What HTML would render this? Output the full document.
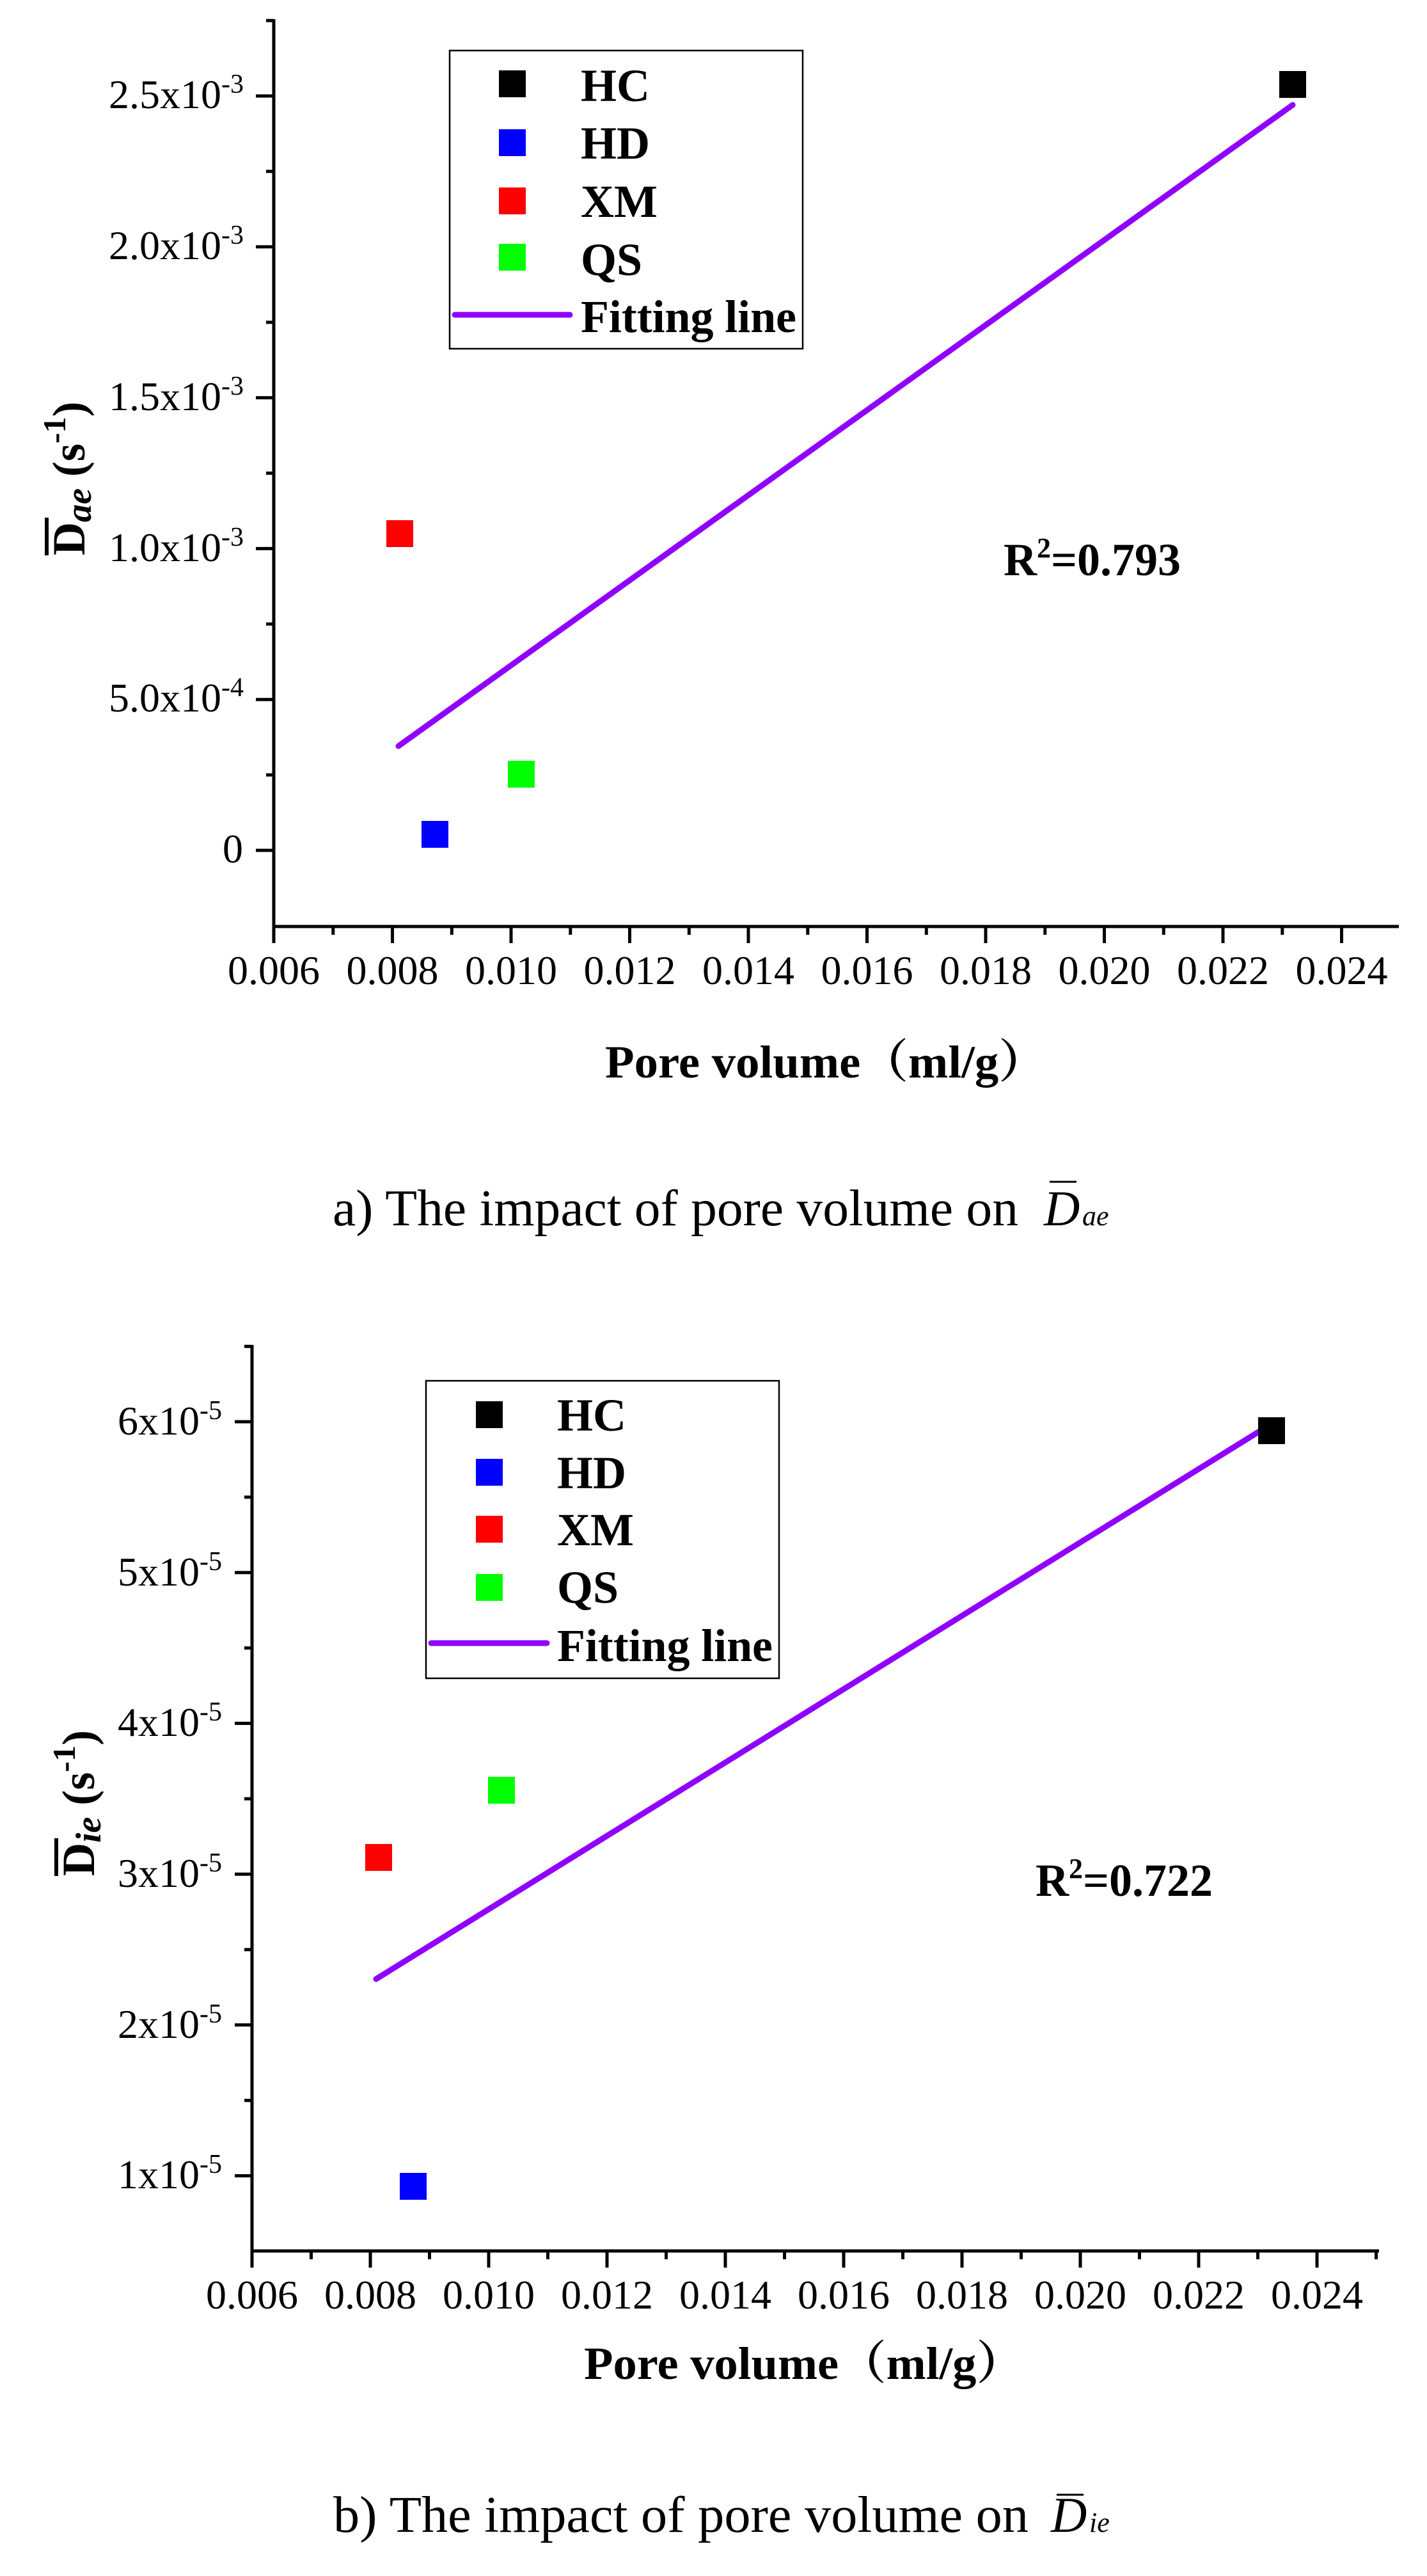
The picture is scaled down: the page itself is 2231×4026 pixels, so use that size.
<!DOCTYPE html>
<html><head><meta charset="utf-8"><style>
html,body{margin:0;padding:0;background:#fff;}
svg{display:block;}
text{font-family:"Liberation Serif","Noto Serif CJK SC",serif;fill:#000;}
.t{font-size:64px;}
.b{font-weight:bold;font-size:72px;}
</style></head><body>
<svg width="2231" height="4026" viewBox="0 0 2231 4026" xmlns="http://www.w3.org/2000/svg">
<rect width="2231" height="4026" fill="#fff"/>
<!-- ===== TOP CHART ===== -->
<g stroke="#000" stroke-width="5" fill="none">
<path d="M428 30V1450M426 1448H2187"/>
<path d="M400 1329H428M400 1093.2H428M400 857.4H428M400 621.6H428M400 385.8H428M400 150H428"/>
<path d="M416 1211.1H428M416 975.3H428M416 739.5H428M416 503.7H428M416 267.9H428M416 32.1H428"/>
<path d="M428 1448V1474M613.5 1448V1474M799 1448V1474M984.5 1448V1474M1170 1448V1474M1355.5 1448V1474M1541 1448V1474M1726.5 1448V1474M1912 1448V1474M2097.5 1448V1474"/>
<path d="M520.8 1448V1461M706.3 1448V1461M891.8 1448V1461M1077.3 1448V1461M1262.8 1448V1461M1448.3 1448V1461M1633.8 1448V1461M1819.3 1448V1461M2004.8 1448V1461"/>
</g>
<g class="t" text-anchor="end">
<text x="380" y="1348">0</text>
<text x="381" y="1112">5.0x10<tspan dy="-24" font-size="42">-4</tspan></text>
<text x="381" y="877">1.0x10<tspan dy="-24" font-size="42">-3</tspan></text>
<text x="381" y="641">1.5x10<tspan dy="-24" font-size="42">-3</tspan></text>
<text x="381" y="405">2.0x10<tspan dy="-24" font-size="42">-3</tspan></text>
<text x="381" y="169">2.5x10<tspan dy="-24" font-size="42">-3</tspan></text>
</g>
<g class="t" text-anchor="middle">
<text x="428" y="1538">0.006</text><text x="613.5" y="1538">0.008</text><text x="799" y="1538">0.010</text>
<text x="984.5" y="1538">0.012</text><text x="1170" y="1538">0.014</text><text x="1355.5" y="1538">0.016</text>
<text x="1541" y="1538">0.018</text><text x="1726.5" y="1538">0.020</text><text x="1912" y="1538">0.022</text>
<text x="2097.5" y="1538">0.024</text>
</g>
<line x1="623" y1="1166" x2="2021" y2="164" stroke="#8f00ff" stroke-width="9" stroke-linecap="round"/>
<rect x="2000" y="111" width="42" height="42" fill="#000"/>
<rect x="659" y="1283" width="42" height="42" fill="#0000ff"/>
<rect x="604" y="813" width="42" height="42" fill="#ff0000"/>
<rect x="794" y="1189" width="42" height="42" fill="#00ff00"/>
<!-- legend -->
<rect x="703" y="79" width="552" height="466" fill="none" stroke="#000" stroke-width="2.5"/>
<rect x="780" y="110" width="42" height="42" fill="#000"/>
<rect x="780" y="202" width="42" height="42" fill="#0000ff"/>
<rect x="780" y="293" width="42" height="42" fill="#ff0000"/>
<rect x="780" y="381" width="42" height="42" fill="#00ff00"/>
<line x1="711" y1="492" x2="891" y2="492" stroke="#8f00ff" stroke-width="9" stroke-linecap="round"/>
<g class="b"><text x="908" y="158">HC</text><text x="908" y="248">HD</text><text x="908" y="339">XM</text><text x="908" y="430">QS</text><text x="908" y="519" textLength="337">Fitting line</text></g>
<text class="b" x="1569" y="899" font-size="70">R<tspan dy="-28" font-size="44">2</tspan><tspan dy="28">=0.793</tspan></text>
<g transform="translate(132,729) rotate(-90)">
<text class="b" x="-139" y="0" font-size="80">D<tspan font-style="italic" font-size="56" dy="10">ae</tspan><tspan dy="-10"> (s</tspan><tspan font-size="50" dy="-30">-1</tspan><tspan dy="30">)</tspan></text>
<line x1="-139" y1="-59" x2="-80" y2="-59" stroke="#000" stroke-width="6"/>
</g>
<text class="b" x="946" y="1684" font-size="80" textLength="690" lengthAdjust="spacingAndGlyphs">Pore volume（ml/g）</text>
<text x="520" y="1915" font-size="80" textLength="1072" lengthAdjust="spacingAndGlyphs">a) The impact of pore volume on</text>
<text x="1632" y="1915" font-size="78" font-style="italic">D</text>
<text x="1692" y="1915" font-size="44" font-style="italic">ae</text>
<line x1="1641" y1="1847" x2="1683" y2="1847" stroke="#000" stroke-width="3"/>

<!-- ===== BOTTOM CHART ===== -->
<g stroke="#000" stroke-width="5" fill="none">
<path d="M394 2102V3520M392 3518H2156"/>
<path d="M367 2222H394M367 2457.7H394M367 2693.4H394M367 2929.1H394M367 3164.8H394M367 3400.5H394"/>
<path d="M382 2104.2H394M382 2339.9H394M382 2575.6H394M382 2811.3H394M382 3047H394M382 3282.7H394"/>
<path d="M394 3518V3544M579 3518V3544M764 3518V3544M949 3518V3544M1134 3518V3544M1319 3518V3544M1504 3518V3544M1689 3518V3544M1874 3518V3544M2059 3518V3544"/>
<path d="M486.5 3518V3531M671.5 3518V3531M856.5 3518V3531M1041.5 3518V3531M1226.5 3518V3531M1411.5 3518V3531M1596.5 3518V3531M1781.5 3518V3531M1966.5 3518V3531M2151.5 3518V3531"/>
</g>
<g class="t" text-anchor="end">
<text x="347" y="2242">6x10<tspan dy="-24" font-size="42">-5</tspan></text>
<text x="347" y="2478">5x10<tspan dy="-24" font-size="42">-5</tspan></text>
<text x="347" y="2713">4x10<tspan dy="-24" font-size="42">-5</tspan></text>
<text x="347" y="2949">3x10<tspan dy="-24" font-size="42">-5</tspan></text>
<text x="347" y="3185">2x10<tspan dy="-24" font-size="42">-5</tspan></text>
<text x="347" y="3420">1x10<tspan dy="-24" font-size="42">-5</tspan></text>
</g>
<g class="t" text-anchor="middle">
<text x="394" y="3608">0.006</text><text x="579" y="3608">0.008</text><text x="764" y="3608">0.010</text>
<text x="949" y="3608">0.012</text><text x="1134" y="3608">0.014</text><text x="1319" y="3608">0.016</text>
<text x="1504" y="3608">0.018</text><text x="1689" y="3608">0.020</text><text x="1874" y="3608">0.022</text>
<text x="2059" y="3608">0.024</text>
</g>
<line x1="588" y1="3093" x2="1990" y2="2224" stroke="#8f00ff" stroke-width="9" stroke-linecap="round"/>
<rect x="1967" y="2215" width="42" height="42" fill="#000"/>
<rect x="625" y="3396" width="42" height="42" fill="#0000ff"/>
<rect x="571" y="2882" width="42" height="42" fill="#ff0000"/>
<rect x="763" y="2777" width="42" height="42" fill="#00ff00"/>
<rect x="666" y="2158" width="552" height="465" fill="none" stroke="#000" stroke-width="2.5"/>
<rect x="744" y="2190" width="42" height="42" fill="#000"/>
<rect x="744" y="2280" width="42" height="42" fill="#0000ff"/>
<rect x="744" y="2369" width="42" height="42" fill="#ff0000"/>
<rect x="744" y="2460" width="42" height="42" fill="#00ff00"/>
<line x1="674" y1="2568" x2="855" y2="2568" stroke="#8f00ff" stroke-width="9" stroke-linecap="round"/>
<g class="b"><text x="871" y="2236">HC</text><text x="871" y="2326">HD</text><text x="871" y="2415">XM</text><text x="871" y="2505">QS</text><text x="871" y="2596" textLength="337">Fitting line</text></g>
<text class="b" x="1619" y="2963" font-size="70">R<tspan dy="-28" font-size="44">2</tspan><tspan dy="28">=0.722</tspan></text>
<g transform="translate(147,2814) rotate(-90)">
<text class="b" x="-118" y="0" font-size="80">D<tspan font-style="italic" font-size="56" dy="10">ie</tspan><tspan dy="-10"> (s</tspan><tspan font-size="50" dy="-30">-1</tspan><tspan dy="30">)</tspan></text>
<line x1="-118" y1="-59" x2="-59" y2="-59" stroke="#000" stroke-width="6"/>
</g>
<text class="b" x="913" y="3718" font-size="80" textLength="688" lengthAdjust="spacingAndGlyphs">Pore volume（ml/g）</text>
<text x="521" y="3957" font-size="80" textLength="1087" lengthAdjust="spacingAndGlyphs">b) The impact of pore volume on</text>
<text x="1643" y="3957" font-size="78" font-style="italic">D</text>
<text x="1703" y="3957" font-size="44" font-style="italic">ie</text>
<line x1="1652" y1="3899" x2="1694" y2="3899" stroke="#000" stroke-width="3"/>
</svg>
</body></html>
